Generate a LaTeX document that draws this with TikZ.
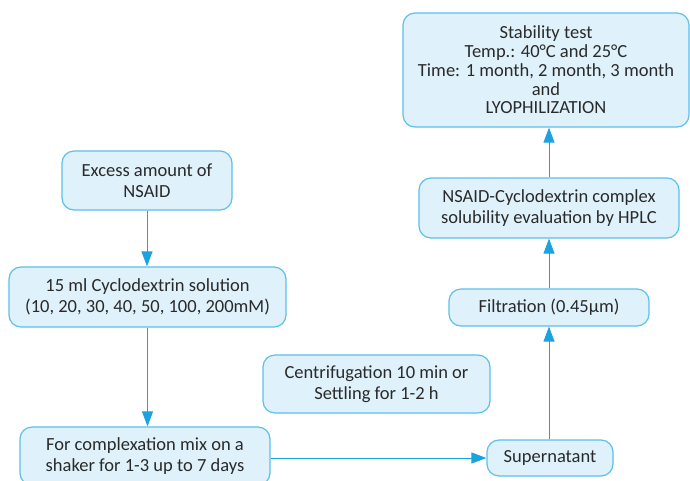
\documentclass[tikz,border=0pt]{standalone}
\usepackage{fontspec}
\setmainfont{Carlito}
\usetikzlibrary{arrows.meta}
\definecolor{boxfill}{HTML}{DFF1FA}
\definecolor{boxline}{HTML}{5BC0EB}
\definecolor{arrowc}{HTML}{1BA3E0}
\definecolor{txt}{HTML}{2A2A2A}
\tikzset{
  flowbox/.style={draw=boxline, line width=1.2pt, fill=boxfill, rounded corners=12pt,
    align=center, text=txt, font=\fontsize{18.5}{20.5}\selectfont, inner sep=2pt},
  flowarrow/.style={draw=arrowc, line width=1pt, -{Triangle[width=11pt,length=15pt]}}
}
\begin{document}
\begin{tikzpicture}[x=1pt,y=-1pt]
\useasboundingbox (0,0) rectangle (690,480);
\node[flowbox, minimum width=286pt, minimum height=114pt, font=\fontsize{18.5}{18.7}\selectfont] (stab) at (546,70)
  {Stability test\\Temp.: 40°C and 25°C\\Time: 1 month, 2 month, 3 month\\and\\LYOPHILIZATION};
\node[flowbox, minimum width=170pt, minimum height=59pt] (excess) at (147,180.5)
  {Excess amount of\\NSAID};
\node[flowbox, minimum width=277pt, minimum height=60pt] (cyclo) at (147.5,297)
  {15 ml Cyclodextrin solution\\(10, 20, 30, 40, 50, 100, 200mM)};
\node[flowbox, minimum width=250pt, minimum height=58pt] (mix) at (145,456)
  {For complexation mix on a\\shaker for 1-3 up to 7 days};
\node[flowbox, minimum width=227pt, minimum height=58pt] (centri) at (376.5,384)
  {Centrifugation 10 min or\\Settling for 1-2 h};
\node[flowbox, minimum width=126pt, minimum height=36pt] (super) at (550,458)
  {Supernatant};
\node[flowbox, minimum width=200pt, minimum height=37pt] (filt) at (549,307.5)
  {Filtration (0.45µm)};
\node[flowbox, minimum width=260pt, minimum height=60pt] (hplc) at (549,208)
  {NSAID-Cyclodextrin complex\\solubility evaluation by HPLC};
\draw[flowarrow] (excess.south) -- (excess.south |- cyclo.north);
\draw[flowarrow] (cyclo.south) -- (cyclo.south |- mix.north);
\draw[flowarrow] (mix.east |- super.west) -- (super.west);
\draw[flowarrow] (super.north -| filt.south) -- (filt.south);
\draw[flowarrow] (filt.north) -- (hplc.south);
\draw[flowarrow] (hplc.north) -- (hplc.north |- stab.south);
\end{tikzpicture}
\end{document}
